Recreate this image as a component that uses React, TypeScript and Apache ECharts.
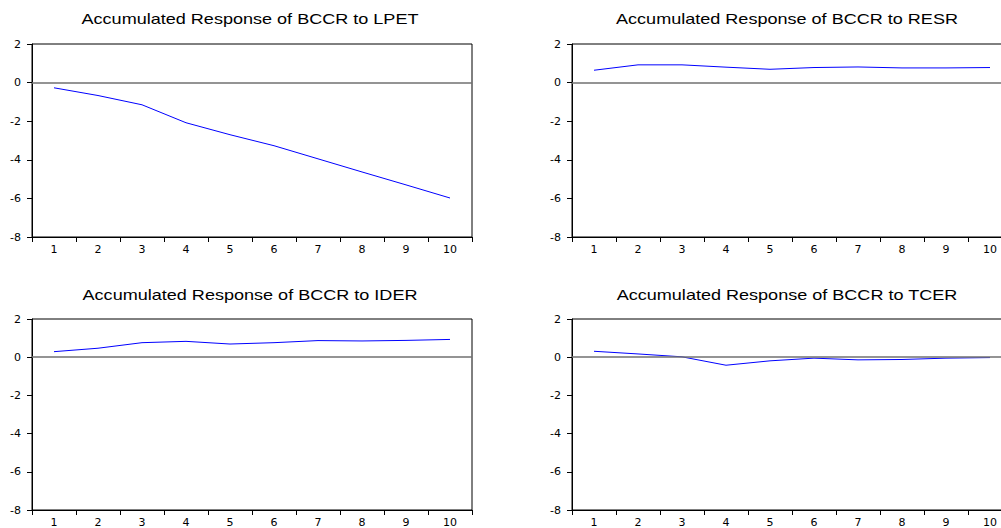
import React, { useEffect, useRef } from "react";
import * as echarts from "echarts";

const periods = ["1", "2", "3", "4", "5", "6", "7", "8", "9", "10"];
const titles = [
  "Accumulated Response of BCCR to LPET",
  "Accumulated Response of BCCR to RESR",
  "Accumulated Response of BCCR to IDER",
  "Accumulated Response of BCCR to TCER",
];
const lpet = [-0.27, -0.67, -1.15, -2.08, -2.7, -3.27, -3.95, -4.63, -5.3, -5.98];
const resr = [0.64, 0.92, 0.92, 0.8, 0.69, 0.78, 0.81, 0.76, 0.76, 0.78];
const ider = [0.29, 0.47, 0.76, 0.83, 0.69, 0.76, 0.87, 0.85, 0.88, 0.93];
const tcer = [0.31, 0.17, 0.02, -0.42, -0.19, -0.05, -0.14, -0.12, -0.05, -0.02];
const seriesData = [lpet, resr, ider, tcer];

const yMin = -8;
const yMax = 2;
const yStep = 2;

const grids = [
  { left: 32, top: 44, width: 440, height: 193 },
  { left: 572, top: 44, width: 440, height: 193 },
  { left: 32, top: 319, width: 440, height: 193 },
  { left: 572, top: 319, width: 440, height: 193 },
];
const titlePos = [
  { x: 250, y: 19 },
  { x: 787, y: 19 },
  { x: 250, y: 295 },
  { x: 787, y: 295 },
];

export default function App() {
  const ref = useRef<HTMLDivElement>(null);
  useEffect(() => {
    if (!ref.current) return;
    const chart = echarts.init(ref.current, null, { renderer: "svg" });
    const titleFont = "'Liberation Sans', Arial, sans-serif";
    const tickFont = "'DejaVu Sans', sans-serif";
    chart.setOption({
      animation: false,
      backgroundColor: "#ffffff",
      graphic: titles.map((t, i) => ({
        type: "text",
        x: titlePos[i].x,
        y: titlePos[i].y,
        scaleX: 1.29,
        silent: true,
        style: {
          text: t,
          textAlign: "center",
          textVerticalAlign: "middle",
          font: `14px ${titleFont}`,
          fill: "#000",
        },
      })),
      grid: grids.map((g) => ({
        ...g,
        show: true,
        borderColor: "#000",
        borderWidth: 1,
        backgroundColor: "transparent",
        containLabel: false,
      })),
      xAxis: grids.map((_, i) => ({
        type: "category",
        gridIndex: i,
        data: periods,
        boundaryGap: true,
        axisLine: { show: true, onZero: false, lineStyle: { color: "#000", width: 1 } },
        axisTick: { show: true, inside: false, length: 5, interval: 0, lineStyle: { color: "#000" } },
        axisLabel: { color: "#000", fontFamily: tickFont, fontSize: 11, margin: 7, interval: 0 },
        splitLine: { show: false },
      })),
      yAxis: grids.map((_, i) => ({
        type: "value",
        gridIndex: i,
        min: yMin,
        max: yMax,
        interval: yStep,
        axisLine: { show: true, lineStyle: { color: "#000", width: 1 } },
        axisTick: { show: true, inside: false, length: 5, lineStyle: { color: "#000" } },
        axisLabel: { color: "#000", fontFamily: tickFont, fontSize: 11, margin: 11 },
        splitLine: { show: false },
      })),
      series: seriesData.map((d, i) => ({
        type: "line",
        xAxisIndex: i,
        yAxisIndex: i,
        data: d,
        showSymbol: false,
        symbol: "none",
        lineStyle: { color: "#0000ff", width: 1 },
        silent: true,
        markLine: {
          silent: true,
          symbol: "none",
          label: { show: false },
          lineStyle: { color: "#707070", width: 1.5, type: "solid" },
          data: [{ yAxis: 0 }],
        },
      })),
    });
    return () => chart.dispose();
  }, []);
  return (
    <div style={{ position: "fixed", left: 0, top: 0, width: 1001, height: 528, overflow: "hidden" }}>
      <div ref={ref} style={{ width: 1030, height: 528 }} />
    </div>
  );
}
